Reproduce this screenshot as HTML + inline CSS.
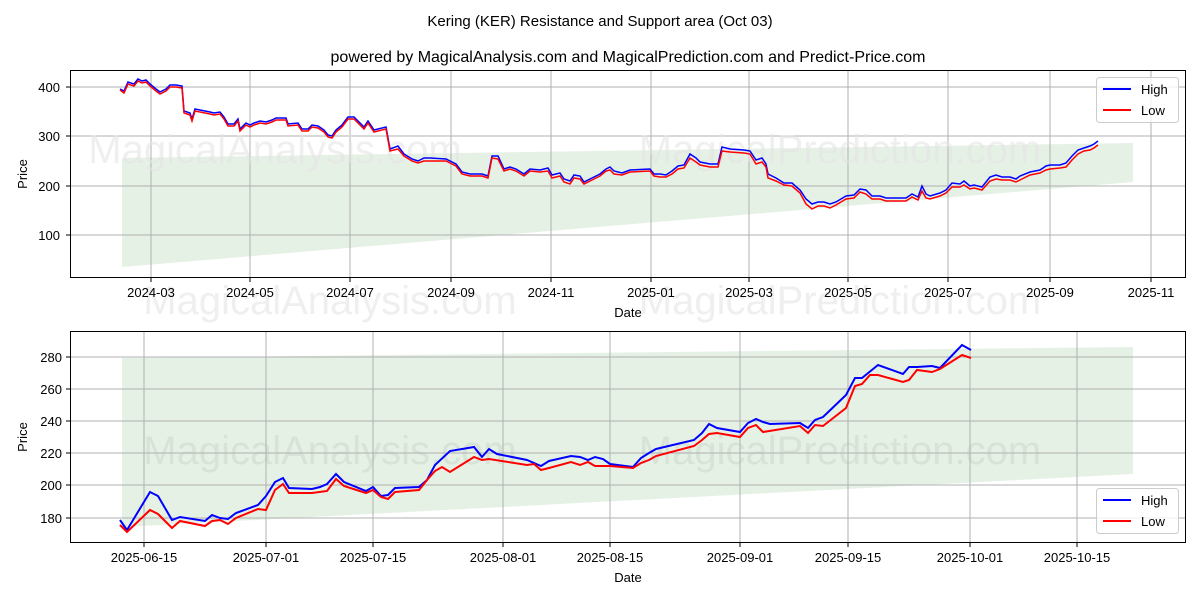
<!DOCTYPE html>
<html><head><meta charset="utf-8"><style>
body{margin:0;background:#fff;}
svg{display:block;font-family:"Liberation Sans","DejaVu Sans",sans-serif;}
</style></head><body>
<svg width="1200" height="600" viewBox="0 0 1200 600" xmlns="http://www.w3.org/2000/svg">
<text x="600" y="26" font-size="15" text-anchor="middle">Kering (KER) Resistance and Support area (Oct 03)</text>
<text x="628" y="62" font-size="16" text-anchor="middle">powered by MagicalAnalysis.com and MagicalPrediction.com and Predict-Price.com</text>

<!-- TOP CHART -->
<polygon points="122,158 1133,143 1133,182 122,267" fill="#2e8b2e" fill-opacity="0.12"/>
<g stroke="#b0b0b0" stroke-width="1">
<line x1="151" y1="70" x2="151" y2="277"/><line x1="250" y1="70" x2="250" y2="277"/><line x1="350" y1="70" x2="350" y2="277"/><line x1="451" y1="70" x2="451" y2="277"/><line x1="551" y1="70" x2="551" y2="277"/><line x1="651" y1="70" x2="651" y2="277"/><line x1="749" y1="70" x2="749" y2="277"/><line x1="848" y1="70" x2="848" y2="277"/><line x1="948" y1="70" x2="948" y2="277"/><line x1="1050" y1="70" x2="1050" y2="277"/><line x1="1151" y1="70" x2="1151" y2="277"/>
<line x1="70" y1="87" x2="1185" y2="87"/><line x1="70" y1="136" x2="1185" y2="136"/><line x1="70" y1="186" x2="1185" y2="186"/><line x1="70" y1="235" x2="1185" y2="235"/>
</g>
<g font-size="40" fill="#e4e4e4" fill-opacity="0.6" text-anchor="middle">
<text x="275" y="163">MagicalAnalysis.com</text><text x="840" y="163">MagicalPrediction.com</text>
<text x="330" y="314">MagicalAnalysis.com</text><text x="840" y="314">MagicalPrediction.com</text>
<text x="330" y="464">MagicalAnalysis.com</text><text x="840" y="464">MagicalPrediction.com</text>
</g>
<polyline fill="none" stroke="#0000ff" stroke-width="1.5" points="120,89 124,91 128,82 134,84 138,79 142,81 146,80 150,84 156,89 160,92 166,89 170,85 176,85 182,86 184,111 190,113 192,119 195,109 210,112 214,113 220,112 224,117 228,124 234,124 238,119 240,129 246,123 250,125 254,123 260,121 266,122 272,120 276,118 286,118 288,124 298,123 302,129 308,129 312,125 318,126 324,130 328,135 332,136 336,130 342,125 348,117 354,117 360,123 364,127 368,121 374,130 378,129 386,127 390,149 398,146 404,154 412,159 418,161 424,158 430,158 446,159 456,164 462,172 470,174 482,174 488,176 492,156 498,156 504,169 510,167 516,169 524,174 530,169 540,170 548,168 552,175 560,173 564,179 570,181 574,175 580,176 584,182 590,179 600,174 606,169 610,167 614,171 622,173 630,170 650,169 654,174 660,174 666,175 672,171 678,166 684,165 690,154 696,158 700,162 710,164 718,164 722,147 730,149 744,150 750,151 756,160 762,158 766,164 768,174 776,178 784,183 792,183 800,190 806,199 812,204 818,202 824,202 830,204 836,202 846,196 854,195 860,189 866,190 872,196 880,196 886,198 896,198 906,198 912,194 918,197 922,186 926,194 930,196 940,193 946,190 952,183 960,184 964,181 970,186 974,185 982,187 990,177 996,175 1002,177 1010,177 1016,179 1020,176 1030,172 1040,170 1046,166 1050,165 1060,165 1066,163 1072,156 1078,150 1084,148 1090,146 1094,144 1098,141"/>
<polyline fill="none" stroke="#ff0000" stroke-width="1.5" points="120,90 124,93 128,84 134,86 138,81 142,83 146,82 150,86 156,91 160,94 166,91 170,87 176,87 182,88 184,113 190,115 192,121 195,111 210,114 214,115 220,114 224,119 228,126 234,126 238,121 240,131 246,125 250,127 254,125 260,123 266,124 272,122 276,120 286,120 288,126 298,125 302,131 308,131 312,127 318,128 324,132 328,137 332,138 336,132 342,127 348,119 354,119 360,125 364,129 368,123 374,132 378,131 386,129 390,151 398,149 404,156 412,161 418,163 424,161 430,161 446,161 456,166 462,174 470,176 482,176 488,178 492,158 498,159 504,171 510,169 516,171 524,176 530,171 540,172 548,171 552,178 560,176 564,182 570,184 574,178 580,179 584,184 590,181 600,176 606,171 610,170 614,174 622,175 630,172 650,171 654,176 660,177 666,177 672,174 678,169 684,168 690,158 696,162 700,165 710,167 718,167 722,151 730,152 744,153 750,154 756,164 762,162 766,167 768,178 776,181 784,185 792,186 800,193 806,204 812,209 818,206 824,206 830,208 836,205 846,199 854,198 860,192 866,194 872,199 880,199 886,201 896,201 906,201 912,197 918,200 922,191 926,198 930,199 940,196 946,193 952,187 960,187 964,185 970,189 974,188 982,190 990,181 996,179 1002,180 1010,180 1016,182 1020,180 1030,175 1040,173 1046,170 1050,169 1060,168 1066,167 1072,160 1078,154 1084,151 1090,150 1094,148 1098,145"/>
<rect x="70.5" y="70.5" width="1115" height="207" fill="none" stroke="#000" stroke-width="1"/>
<g font-size="13" text-anchor="end">
<text x="60" y="92">400</text><text x="60" y="141">300</text><text x="60" y="191">200</text><text x="60" y="240">100</text>
</g>
<g stroke="#000"><line x1="66" y1="87" x2="70" y2="87"/><line x1="66" y1="136" x2="70" y2="136"/><line x1="66" y1="186" x2="70" y2="186"/><line x1="66" y1="235" x2="70" y2="235"/>
<line x1="151" y1="278" x2="151" y2="282"/><line x1="250" y1="278" x2="250" y2="282"/><line x1="350" y1="278" x2="350" y2="282"/><line x1="451" y1="278" x2="451" y2="282"/><line x1="551" y1="278" x2="551" y2="282"/><line x1="651" y1="278" x2="651" y2="282"/><line x1="749" y1="278" x2="749" y2="282"/><line x1="848" y1="278" x2="848" y2="282"/><line x1="948" y1="278" x2="948" y2="282"/><line x1="1050" y1="278" x2="1050" y2="282"/><line x1="1151" y1="278" x2="1151" y2="282"/></g>
<g font-size="13" text-anchor="middle">
<text x="151" y="297">2024-03</text><text x="250" y="297">2024-05</text><text x="350" y="297">2024-07</text><text x="451" y="297">2024-09</text><text x="551" y="297">2024-11</text><text x="651" y="297">2025-01</text><text x="749" y="297">2025-03</text><text x="848" y="297">2025-05</text><text x="948" y="297">2025-07</text><text x="1050" y="297">2025-09</text><text x="1151" y="297">2025-11</text>
<text x="628" y="317">Date</text>
<text transform="translate(27,174) rotate(-90)">Price</text>
</g>
<rect x="1096.5" y="77.5" width="82" height="45" rx="3" fill="#fff" fill-opacity="0.8" stroke="#ccc"/>
<line x1="1103" y1="89" x2="1131" y2="89" stroke="#0000ff" stroke-width="2"/><text x="1141" y="94" font-size="13">High</text>
<line x1="1103" y1="110" x2="1131" y2="110" stroke="#ff0000" stroke-width="2"/><text x="1141" y="115" font-size="13">Low</text>

<!-- BOTTOM CHART -->
<polygon points="122,358 1133,347 1133,474 122,527" fill="#2e8b2e" fill-opacity="0.12"/>
<g stroke="#b0b0b0" stroke-width="1">
<line x1="144" y1="331" x2="144" y2="542"/><line x1="266" y1="331" x2="266" y2="542"/><line x1="373" y1="331" x2="373" y2="542"/><line x1="503" y1="331" x2="503" y2="542"/><line x1="610" y1="331" x2="610" y2="542"/><line x1="740" y1="331" x2="740" y2="542"/><line x1="848" y1="331" x2="848" y2="542"/><line x1="970" y1="331" x2="970" y2="542"/><line x1="1077" y1="331" x2="1077" y2="542"/>
<line x1="70" y1="357" x2="1185" y2="357"/><line x1="70" y1="389" x2="1185" y2="389"/><line x1="70" y1="421" x2="1185" y2="421"/><line x1="70" y1="453" x2="1185" y2="453"/><line x1="70" y1="485" x2="1185" y2="485"/><line x1="70" y1="518" x2="1185" y2="518"/>
</g>
<polyline fill="none" stroke="#0000ff" stroke-width="2" points="120,520 127,530 150,492 158,496 172,520 180,517 205,521 212,515 220,518 228,519 236,513 258,505 266,496 275,482 283,478 289,488 312,489 320,487 327,484 336,474 344,482 366,491 373,487 381,496 388,495 395,488 419,487 427,480 435,465 450,451 474,447 482,457 489,449 497,454 527,460 534,463 541,466 549,461 571,456 580,457 588,460 595,457 603,459 610,464 633,467 641,458 649,453 656,449 694,440 702,433 709,424 717,428 740,432 748,423 756,419 763,422 770,424 800,423 808,428 815,420 823,417 846,395 855,378 862,378 878,365 903,374 909,367 917,367 932,366 940,368 962,345 971,350"/>
<polyline fill="none" stroke="#ff0000" stroke-width="2" points="120,525 127,532 150,510 158,514 172,528 180,521 205,526 212,521 220,520 228,524 236,518 258,509 266,510 275,490 283,484 289,493 312,493 327,491 336,479 344,486 366,493 373,490 381,497 388,499 395,492 419,490 427,480 435,471 442,467 450,472 474,457 482,460 489,459 527,465 534,464 541,470 549,468 571,462 580,465 588,462 595,466 610,466 633,468 641,463 649,460 656,456 694,446 702,440 709,434 717,433 740,437 748,428 756,425 763,432 800,426 808,433 815,425 823,426 846,408 855,386 862,384 870,375 878,375 903,382 909,380 917,370 932,372 940,369 962,355 971,358"/>
<rect x="70.5" y="331.5" width="1115" height="211" fill="none" stroke="#000" stroke-width="1"/>
<g font-size="13" text-anchor="end">
<text x="62" y="362">280</text><text x="62" y="394">260</text><text x="62" y="426">240</text><text x="62" y="458">220</text><text x="62" y="490">200</text><text x="62" y="523">180</text>
</g>
<g stroke="#000"><line x1="66" y1="357" x2="70" y2="357"/><line x1="66" y1="389" x2="70" y2="389"/><line x1="66" y1="421" x2="70" y2="421"/><line x1="66" y1="453" x2="70" y2="453"/><line x1="66" y1="485" x2="70" y2="485"/><line x1="66" y1="518" x2="70" y2="518"/>
<line x1="144" y1="543" x2="144" y2="547"/><line x1="266" y1="543" x2="266" y2="547"/><line x1="373" y1="543" x2="373" y2="547"/><line x1="503" y1="543" x2="503" y2="547"/><line x1="610" y1="543" x2="610" y2="547"/><line x1="740" y1="543" x2="740" y2="547"/><line x1="848" y1="543" x2="848" y2="547"/><line x1="970" y1="543" x2="970" y2="547"/><line x1="1077" y1="543" x2="1077" y2="547"/></g>
<g font-size="13" text-anchor="middle">
<text x="144" y="562">2025-06-15</text><text x="266" y="562">2025-07-01</text><text x="373" y="562">2025-07-15</text><text x="503" y="562">2025-08-01</text><text x="610" y="562">2025-08-15</text><text x="740" y="562">2025-09-01</text><text x="848" y="562">2025-09-15</text><text x="970" y="562">2025-10-01</text><text x="1077" y="562">2025-10-15</text>
<text x="628" y="582">Date</text>
<text transform="translate(27,437) rotate(-90)">Price</text>
</g>
<rect x="1096.5" y="488.5" width="82" height="45" rx="3" fill="#fff" fill-opacity="0.8" stroke="#ccc"/>
<line x1="1103" y1="500" x2="1131" y2="500" stroke="#0000ff" stroke-width="2"/><text x="1141" y="505" font-size="13">High</text>
<line x1="1103" y1="521" x2="1131" y2="521" stroke="#ff0000" stroke-width="2"/><text x="1141" y="526" font-size="13">Low</text>
</svg>
</body></html>
